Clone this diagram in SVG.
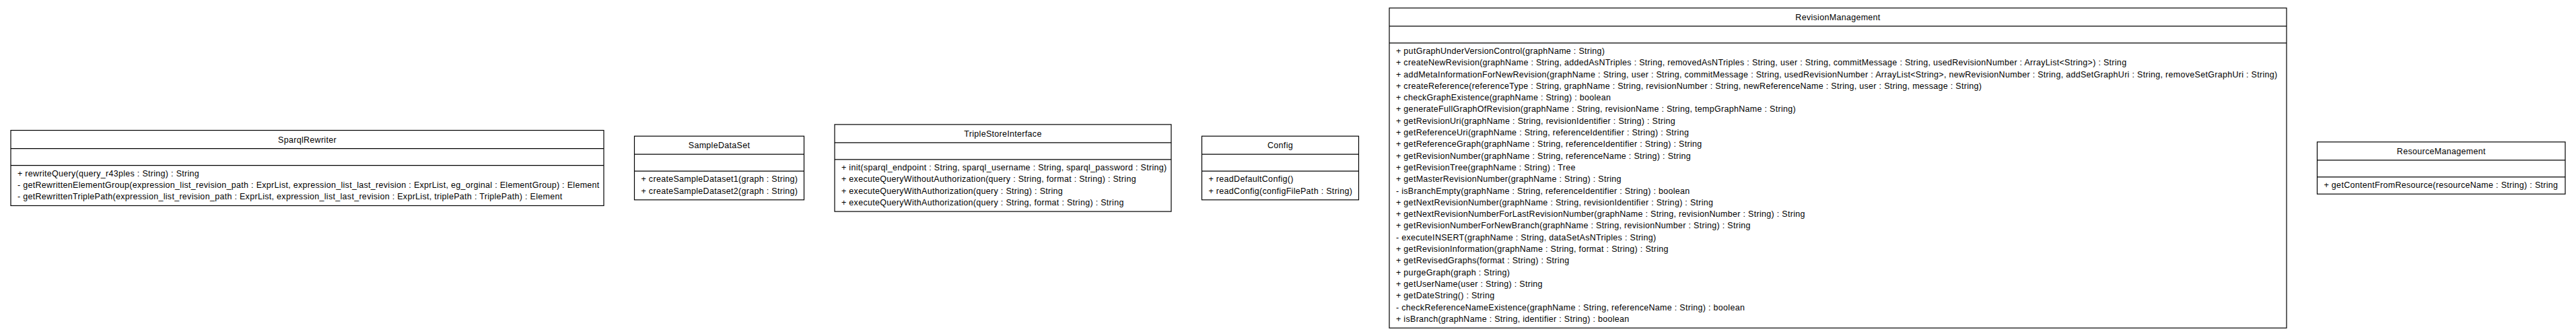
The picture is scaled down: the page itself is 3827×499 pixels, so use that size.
<svg xmlns="http://www.w3.org/2000/svg" width="3827" height="499" viewBox="0 0 3827 499">
<style>
.box{fill:#fff;stroke:#000;stroke-width:1.2}
.dv{stroke:#000;stroke-width:1.3;fill:none}
.t{font-family:"Liberation Sans",Arial,Helvetica,sans-serif;font-size:12.5px;letter-spacing:0.3px;fill:#000}
.c{text-anchor:middle}
</style>
<rect x="0" y="0" width="3827" height="499" fill="#fff"/>
<g id="connectors"/>

<g id="SparqlRewriter">
<rect class="box" x="16" y="193.55" width="881" height="111.9"/>
<line class="dv" x1="16" y1="220.55" x2="897" y2="220.55"/>
<line class="dv" x1="16" y1="245.55" x2="897" y2="245.55"/>
<text class="t c" x="456.5" y="211.55">SparqlRewriter</text>
<text class="t" x="26" y="261.55">+ rewriteQuery(query_r43ples : String) : String</text>
<text class="t" x="26" y="278.85">- getRewrittenElementGroup(expression_list_revision_path : ExprList, expression_list_last_revision : ExprList, eg_orginal : ElementGroup) : Element</text>
<text class="t" x="26" y="296.15">- getRewrittenTriplePath(expression_list_revision_path : ExprList, expression_list_last_revision : ExprList, triplePath : TriplePath) : Element</text>
</g>

<g id="SampleDataSet">
<rect class="box" x="942.5" y="202.2" width="252" height="94.6"/>
<line class="dv" x1="942.5" y1="229.2" x2="1194.5" y2="229.2"/>
<line class="dv" x1="942.5" y1="254.2" x2="1194.5" y2="254.2"/>
<text class="t c" x="1068.5" y="220.2">SampleDataSet</text>
<text class="t" x="952.5" y="270.2">+ createSampleDataset1(graph : String)</text>
<text class="t" x="952.5" y="287.5">+ createSampleDataset2(graph : String)</text>
</g>

<g id="TripleStoreInterface">
<rect class="box" x="1240" y="184.9" width="500" height="129.2"/>
<line class="dv" x1="1240" y1="211.9" x2="1740" y2="211.9"/>
<line class="dv" x1="1240" y1="236.9" x2="1740" y2="236.9"/>
<text class="t c" x="1490" y="202.9">TripleStoreInterface</text>
<text class="t" x="1250" y="252.9">+ init(sparql_endpoint : String, sparql_username : String, sparql_password : String)</text>
<text class="t" x="1250" y="270.2">+ executeQueryWithoutAuthorization(query : String, format : String) : String</text>
<text class="t" x="1250" y="287.5">+ executeQueryWithAuthorization(query : String) : String</text>
<text class="t" x="1250" y="304.8">+ executeQueryWithAuthorization(query : String, format : String) : String</text>
</g>

<g id="Config">
<rect class="box" x="1785.5" y="202.2" width="233" height="94.6"/>
<line class="dv" x1="1785.5" y1="229.2" x2="2018.5" y2="229.2"/>
<line class="dv" x1="1785.5" y1="254.2" x2="2018.5" y2="254.2"/>
<text class="t c" x="1902" y="220.2">Config</text>
<text class="t" x="1795.5" y="270.2">+ readDefaultConfig()</text>
<text class="t" x="1795.5" y="287.5">+ readConfig(configFilePath : String)</text>
</g>

<g id="RevisionManagement">
<rect class="box" x="2064" y="11.9" width="1333" height="475.2"/>
<line class="dv" x1="2064" y1="38.9" x2="3397" y2="38.9"/>
<line class="dv" x1="2064" y1="63.9" x2="3397" y2="63.9"/>
<text class="t c" x="2730.5" y="29.9">RevisionManagement</text>
<text class="t" x="2074" y="79.9">+ putGraphUnderVersionControl(graphName : String)</text>
<text class="t" x="2074" y="97.2">+ createNewRevision(graphName : String, addedAsNTriples : String, removedAsNTriples : String, user : String, commitMessage : String, usedRevisionNumber : ArrayList&lt;String&gt;) : String</text>
<text class="t" x="2074" y="114.5">+ addMetaInformationForNewRevision(graphName : String, user : String, commitMessage : String, usedRevisionNumber : ArrayList&lt;String&gt;, newRevisionNumber : String, addSetGraphUri : String, removeSetGraphUri : String)</text>
<text class="t" x="2074" y="131.8">+ createReference(referenceType : String, graphName : String, revisionNumber : String, newReferenceName : String, user : String, message : String)</text>
<text class="t" x="2074" y="149.1">+ checkGraphExistence(graphName : String) : boolean</text>
<text class="t" x="2074" y="166.4">+ generateFullGraphOfRevision(graphName : String, revisionName : String, tempGraphName : String)</text>
<text class="t" x="2074" y="183.7">+ getRevisionUri(graphName : String, revisionIdentifier : String) : String</text>
<text class="t" x="2074" y="201.0">+ getReferenceUri(graphName : String, referenceIdentifier : String) : String</text>
<text class="t" x="2074" y="218.3">+ getReferenceGraph(graphName : String, referenceIdentifier : String) : String</text>
<text class="t" x="2074" y="235.6">+ getRevisionNumber(graphName : String, referenceName : String) : String</text>
<text class="t" x="2074" y="252.9">+ getRevisionTree(graphName : String) : Tree</text>
<text class="t" x="2074" y="270.2">+ getMasterRevisionNumber(graphName : String) : String</text>
<text class="t" x="2074" y="287.5">- isBranchEmpty(graphName : String, referenceIdentifier : String) : boolean</text>
<text class="t" x="2074" y="304.8">+ getNextRevisionNumber(graphName : String, revisionIdentifier : String) : String</text>
<text class="t" x="2074" y="322.1">+ getNextRevisionNumberForLastRevisionNumber(graphName : String, revisionNumber : String) : String</text>
<text class="t" x="2074" y="339.4">+ getRevisionNumberForNewBranch(graphName : String, revisionNumber : String) : String</text>
<text class="t" x="2074" y="356.7">- executeINSERT(graphName : String, dataSetAsNTriples : String)</text>
<text class="t" x="2074" y="374.0">+ getRevisionInformation(graphName : String, format : String) : String</text>
<text class="t" x="2074" y="391.3">+ getRevisedGraphs(format : String) : String</text>
<text class="t" x="2074" y="408.6">+ purgeGraph(graph : String)</text>
<text class="t" x="2074" y="425.9">+ getUserName(user : String) : String</text>
<text class="t" x="2074" y="443.2">+ getDateString() : String</text>
<text class="t" x="2074" y="460.5">- checkReferenceNameExistence(graphName : String, referenceName : String) : boolean</text>
<text class="t" x="2074" y="477.8">+ isBranch(graphName : String, identifier : String) : boolean</text>
</g>

<g id="ResourceManagement">
<rect class="box" x="3442.5" y="210.85" width="368.5" height="77.3"/>
<line class="dv" x1="3442.5" y1="237.85" x2="3811" y2="237.85"/>
<line class="dv" x1="3442.5" y1="262.85" x2="3811" y2="262.85"/>
<text class="t c" x="3626.75" y="228.85">ResourceManagement</text>
<text class="t" x="3452.5" y="278.85">+ getContentFromResource(resourceName : String) : String</text>
</g>
</svg>
